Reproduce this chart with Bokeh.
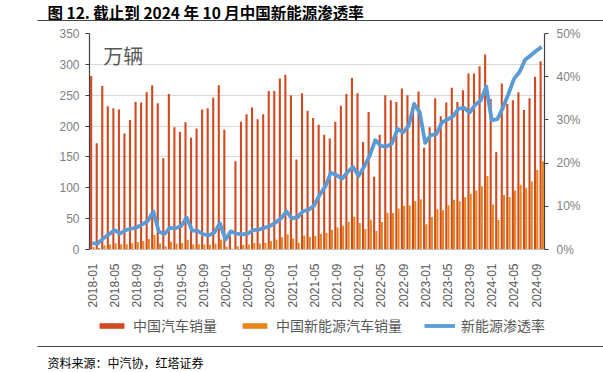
from math import pi
from bokeh.plotting import figure
from bokeh.layouts import column
from bokeh.models import (Range1d, LinearAxis, FixedTicker, NumeralTickFormatter, Label,
                          Legend, LegendItem, ColumnDataSource, Plot, BoxAnnotation)
from bokeh.transform import dodge
from bokeh.embed import file_html
from bokeh.resources import INLINE

# ---- data (万辆 / %) ----
months = [f"{y}-{m:02d}" for y in range(2018, 2025) for m in range(1, 13)][:82]

total_sales = [
    281, 172, 265, 232, 229, 227, 188, 210, 239, 238, 255, 266,   # 2018
    237, 148, 252, 198, 191, 206, 181, 196, 227, 229, 246, 266,   # 2019
    194, 31, 143, 207, 219, 230, 211, 219, 257, 257, 277, 283,    # 2020
    250, 146, 253, 225, 213, 202, 186, 180, 207, 233, 252, 278,   # 2021
    253, 174, 223, 118, 186, 250, 242, 239, 261, 250, 233, 256,   # 2022
    165, 198, 245, 216, 238, 262, 239, 258, 285, 285, 297, 316,   # 2023
    244, 158, 269, 236, 242, 255, 226, 245, 280, 305,             # 2024
]
nev_sales = [
    4.0, 2.4, 6.8, 8.2, 10.2, 8.4, 8.4, 10.1, 12.1, 13.8, 16.9, 23.5,
    9.6, 5.3, 12.6, 9.7, 10.4, 15.2, 8.0, 8.5, 8.0, 7.5, 9.5, 16.3,
    4.4, 1.3, 5.3, 7.2, 8.2, 10.4, 9.8, 10.9, 13.8, 16.0, 20.0, 24.8,
    17.9, 11.0, 22.6, 20.6, 21.7, 25.6, 27.1, 32.1, 35.7, 38.3, 45.0, 53.1,
    43.1, 33.4, 48.4, 29.9, 44.7, 59.6, 59.3, 66.6, 70.8, 71.4, 78.6, 81.4,
    40.8, 52.5, 65.3, 63.6, 71.7, 80.6, 78.0, 84.6, 90.4, 95.6, 102.6, 119.1,
    72.9, 47.7, 88.3, 85.0, 95.5, 104.9, 99.1, 110.0, 128.7, 143.0,
]
penetration_pct = [
    1.4, 1.4, 2.6, 3.5, 4.5, 3.7, 4.5, 4.8, 5.1, 5.8, 6.6, 8.8,
    4.1, 3.6, 5.0, 4.9, 5.4, 7.4, 4.4, 4.3, 3.5, 3.3, 3.9, 6.1,
    2.3, 4.2, 3.7, 3.5, 3.7, 4.5, 4.6, 5.0, 5.4, 6.2, 7.2, 8.8,
    7.2, 7.5, 8.9, 9.2, 10.2, 12.7, 14.6, 17.8, 17.2, 16.4, 17.9, 19.1,
    17.0, 19.2, 21.7, 25.3, 24.0, 23.8, 24.5, 27.9, 27.1, 28.6, 33.7, 31.8,
    24.7, 26.5, 26.7, 29.4, 30.1, 30.8, 32.6, 32.8, 31.7, 33.5, 34.5, 37.7,
    29.9, 30.2, 32.8, 36.0, 39.5, 41.1, 43.9, 44.9, 46.0, 46.9,
]
tick_labels = ["2018-01", "2018-05", "2018-09", "2019-01", "2019-05", "2019-09",
               "2020-01", "2020-05", "2020-09", "2021-01", "2021-05", "2021-09",
               "2022-01", "2022-05", "2022-09", "2023-01", "2023-05", "2023-09",
               "2024-01", "2024-05", "2024-09"]
left_ticks = [0, 50, 100, 150, 200, 250, 300, 350]
right_ticks = [0, 0.1, 0.2, 0.3, 0.4, 0.5]

series_names = ["中国汽车销量", "中国新能源汽车销量", "新能源渗透率"]
title_text = "图 12. 截止到 2024 年 10 月中国新能源渗透率"
unit_text = "万辆"
source_text = "资料来源：中汽协，红塔证券"

RED = "#D04A22"
ORANGE = "#E8861C"
BLUE = "#5B9BD5"
GREY = "#7F7F7F"
RULE = "#444444"
CJK = "Noto Sans CJK SC"
W = 603
HAS_ALIGN = "frame_align" in Plot.properties()


def blank_fig(h, x0=0, left=0):
    f = figure(width=W, height=h, output_backend="svg", toolbar_location=None,
               x_range=Range1d(x0, W), y_range=Range1d(h, 0),
               x_axis_type=None, y_axis_type=None,
               min_border=0, min_border_left=left, min_border_right=0,
               min_border_top=0, min_border_bottom=0)
    f.outline_line_color = None
    f.xgrid.visible = False
    f.ygrid.visible = False
    f.background_fill_color = "white"
    f.border_fill_color = "white"
    if HAS_ALIGN:
        f.frame_align = False
    return f


# ---------------- header ----------------
head = blank_fig(25)
head.add_layout(Label(x=47, y=11.2, text=title_text, text_font=CJK, text_font_style="bold",
                      text_font_size="15.5px", text_color="#000000", text_baseline="middle"))
head.add_layout(BoxAnnotation(left=37, right=W, top=19.5, bottom=20.5,
                              fill_color=RULE, fill_alpha=1, line_color=None,
                              line_alpha=0, level="overlay"))

# ---------------- main chart ----------------
idx = list(range(len(months)))
tick_pos = [months.index(t) for t in tick_labels]

src = ColumnDataSource(dict(x=idx, total=total_sales, nev=nev_sales,
                            rate=[v / 100 for v in penetration_pct]))

p = figure(width=W, height=285, output_backend="svg", toolbar_location=None,
           x_range=Range1d(-0.5, len(months) - 0.5), y_range=Range1d(0, 350),
           min_border_left=89, min_border_right=59, min_border_top=8, min_border_bottom=58)
p.outline_line_color = None
p.background_fill_color = "white"
p.border_fill_color = "white"
if HAS_ALIGN:
    p.frame_align = False
p.extra_y_ranges = {"pct": Range1d(0, 0.5)}

r1 = p.vbar(x=dodge("x", -0.2, range=p.x_range), top="total", width=0.38, source=src,
            fill_color=RED, line_color=None)
r2 = p.vbar(x=dodge("x", 0.2, range=p.x_range), top="nev", width=0.38, source=src,
            fill_color=ORANGE, line_color=None)
r3 = p.line(x="x", y="rate", source=src, y_range_name="pct", line_color=BLUE, line_width=3.8,
            line_join="round")

p.xgrid.visible = False
p.ygrid.ticker = FixedTicker(ticks=left_ticks)
p.ygrid.grid_line_color = "#D9D9D9"

xa = p.xaxis[0]
xa.ticker = FixedTicker(ticks=tick_pos)
xa.major_label_overrides = {pos: lab for pos, lab in zip(tick_pos, tick_labels)}
xa.major_label_orientation = pi / 2
xa.axis_line_color = "#BFBFBF"
xa.major_tick_line_color = None
xa.minor_tick_line_color = None
xa.major_label_text_font = "Liberation Sans"
xa.major_label_text_font_size = "12px"
xa.major_label_text_color = "#595959"
xa.major_label_standoff = 8

ya = p.yaxis[0]
ya.ticker = FixedTicker(ticks=left_ticks)
ya.axis_line_color = "#404040"
ya.axis_line_width = 1.2
ya.major_tick_line_color = "#404040"
ya.major_tick_out = 4
ya.major_tick_in = 0
ya.minor_tick_line_color = None
ya.major_label_text_font = "Liberation Sans"
ya.major_label_text_font_size = "12px"
ya.major_label_text_color = GREY
ya.major_label_standoff = 6

ra = LinearAxis(y_range_name="pct", ticker=FixedTicker(ticks=right_ticks),
                formatter=NumeralTickFormatter(format="0%"))
ra.axis_line_color = "#404040"
ra.axis_line_width = 1.2
ra.major_tick_line_color = "#404040"
ra.major_tick_out = 4
ra.major_tick_in = 0
ra.minor_tick_line_color = None
ra.major_label_text_font = "Liberation Sans"
ra.major_label_text_font_size = "12px"
ra.major_label_text_color = GREY
ra.major_label_standoff = 8
p.add_layout(ra, "right")

p.add_layout(Label(x=2.0, y=315, text=unit_text, text_font=CJK,
                   text_font_size="20px", text_color="#595959", text_baseline="middle"))

# ---------------- legend strip ----------------
LH = 36
leg_fig = blank_fig(LH)
# off-screen stand-ins that only give the legend its swatch styles
k1 = leg_fig.vbar(x=[5000], top=[1], width=1, fill_color=RED, line_color=None)
k2 = leg_fig.vbar(x=[5000], top=[1], width=1, fill_color=ORANGE, line_color=None)
k3 = leg_fig.line(x=[5000, 5010], y=[1, 1], line_color=BLUE, line_width=3.8)
legend = Legend(items=[LegendItem(label=series_names[0], renderers=[k1]),
                       LegendItem(label=series_names[1], renderers=[k2]),
                       LegendItem(label=series_names[2], renderers=[k3])],
                orientation="horizontal", location=(96, 11),
                border_line_color=None, background_fill_alpha=0,
                label_text_font=CJK, label_text_font_size="14px",
                label_text_color="#595959", glyph_width=31, glyph_height=7,
                label_height=14, spacing=22, label_standoff=6, padding=0, margin=0)
leg_fig.add_layout(legend)

# ---------------- source strip (its top axis line is the rule) ----------------
SH = 26
src_fig = blank_fig(SH, x0=37, left=37)
rule_axis = LinearAxis(ticker=FixedTicker(ticks=[]))
rule_axis.axis_line_color = RULE
rule_axis.axis_line_width = 1
rule_axis.major_tick_line_color = None
rule_axis.minor_tick_line_color = None
rule_axis.major_tick_out = 0
rule_axis.major_tick_in = 0
rule_axis.major_label_standoff = 0
rule_axis.major_label_text_font_size = "0px"
src_fig.add_layout(rule_axis, "above")
src_fig.add_layout(Label(x=47, y=10.5, y_units="screen", text=source_text, text_font=CJK,
                         text_font_size="12px", text_color="#000000", text_baseline="middle"))

layout = column(head, p, leg_fig, src_fig, spacing=0)
open("out.html", "w").write(file_html(layout, INLINE))
